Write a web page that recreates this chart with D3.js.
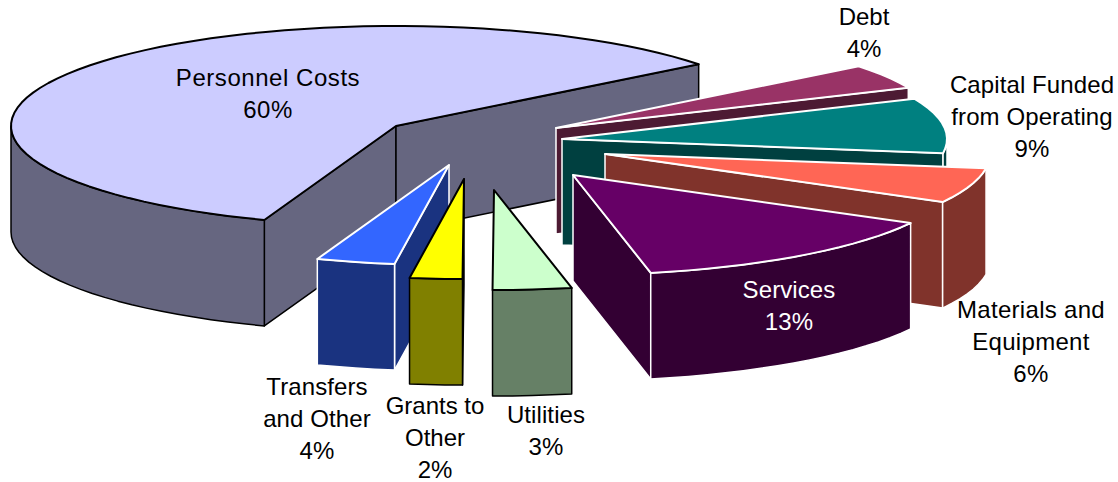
<!DOCTYPE html>
<html>
<head>
<meta charset="utf-8">
<script src="https://cdn.jsdelivr.net/npm/d3@7"></script>
<style>
    html, body { margin: 0; padding: 0; background: #fff; }
    svg { display: block; }
</style>
</head>
<body>
<svg id="chart" width="1118" height="482"></svg>
<script>
// data, clockwise from the lower edge of the big slice
const categories = ["Personnel Costs", "Debt", "Capital Funded from Operating", "Materials and Equipment",
    "Services", "Utilities", "Grants to Other", "Transfers and Other"];
// slice sizes as measured on the picture
const shares = [58.9, 4, 8.9, 5.7, 13.8, 3.3, 2.2, 3.3];
// percentages as printed on the picture
const percentLabels = ["60%", "4%", "9%", "6%", "13%", "3%", "2%", "4%"];

// label line breaks
const labelLines = [["Personnel Costs"], ["Debt"], ["Capital Funded", "from Operating"], ["Materials and", "Equipment"],
    ["Services"], ["Utilities"], ["Grants to", "Other"], ["Transfers", "and Other"]];

// styles and layout, kept apart from the data
const topColors = ["#CCCCFF", "#993366", "#008080", "#FF6655", "#660066", "#CCFFCC", "#FFFF00", "#3366FF"];
const edgeColors = ["#000", "#fff", "#fff", "#fff", "#fff", "#000", "#000", "#fff"];
const labelColors = ["#000", "#000", "#000", "#000", "#fff", "#000", "#000", "#000"];
const shiftX = [0, 160, 166, 209, 177, 98, 68, 53];
const shiftY = [0, 2, 13, 28, 49, 64, 53, 39];
const labelX = [268, 864, 1032, 1031, 789, 546, 435, 317];
const labelY = [78, 17, 85, 310, 290, 415, 406, 387];
const labelSpacing = [0.55, 0, 0.1, 0.3, 0.1, 0.1, 0, 0.1];
const drawOrder = [0, 1, 2, 3, 4, 7, 6, 5];

const cx = 396, cy = 126, rx = 385, ry = 100, depth = 106;
const lineGap = 32;

const svg = d3.select("#chart");

// unit circle -> tilted ellipse
const xScale = d3.scaleLinear().domain([-1, 1]).range([cx - rx, cx + rx]);
const yScale = d3.scaleLinear().domain([-1, 1]).range([cy - ry, cy + ry]);

const pie = d3.pie().sort(null)
    .startAngle(200 * Math.PI / 180)
    .endAngle((200 + 360) * Math.PI / 180);
const arcs = pie(shares);

const line = d3.line().x(d => d[0]).y(d => d[1]);

// point on the rim, t in degrees clockwise from 3 o'clock
function rimPoint(t, i, drop = 0) {
    const r = t * Math.PI / 180;
    return [xScale(Math.cos(r)) + shiftX[i], yScale(Math.sin(r)) + shiftY[i] + drop];
}

function apexPoint(i, drop = 0) {
    return [xScale(0) + shiftX[i], yScale(0) + shiftY[i] + drop];
}

// rim samples between two angles
function rimRange(t0, t1, i, drop = 0) {
    const steps = Math.max(2, Math.ceil((t1 - t0) / 3));
    return d3.range(steps + 1).map(k => rimPoint(t0 + (t1 - t0) * k / steps, i, drop));
}

function darkHalf(color) {
    const c = d3.rgb(color);
    return d3.rgb(c.r / 2, c.g / 2, c.b / 2).formatHex();
}

function addFace(g, points, fill, stroke, width) {
    g.append("path")
        .attr("d", line(points) + "Z")
        .attr("fill", fill)
        .attr("stroke", stroke)
        .attr("stroke-width", width)
        .attr("stroke-linejoin", "round");
}

drawOrder.forEach(i => {
    const g = svg.append("g").attr("class", "slice");
    const t0 = arcs[i].startAngle * 180 / Math.PI - 90;
    const t1 = arcs[i].endAngle * 180 / Math.PI - 90;
    const side = darkHalf(topColors[i]);
    const edge = edgeColors[i];

    // cut faces, only the ones turned towards the viewer
    [t0, t1].forEach((t, k) => {
        const c = Math.cos(t * Math.PI / 180);
        if ((k === 0 && c < 0) || (k === 1 && c > 0)) {
            addFace(g, [apexPoint(i), rimPoint(t, i), rimPoint(t, i, depth), apexPoint(i, depth)], side, edge, 1.5);
        }
    });

    // outer wall, front half of the rim only
    [0, 360].forEach(from => {
        const lo = Math.max(t0, from);
        const hi = Math.min(t1, from + 180);
        if (lo < hi) {
            const upper = rimRange(lo, hi, i);
            const lower = rimRange(lo, hi, i, depth).reverse();
            addFace(g, upper.concat(lower), side, edge, 1.5);
        }
    });

    // top face
    addFace(g, [apexPoint(i)].concat(rimRange(t0, t1, i)), topColors[i], edge, 2);
});

// labels
categories.forEach((name, i) => {
    const lines = labelLines[i].concat(percentLabels[i]);
    const text = svg.append("text")
        .attr("text-anchor", "middle")
        .attr("font-family", "'Liberation Sans', Arial, sans-serif")
        .attr("font-size", 24)
        .attr("letter-spacing", labelSpacing[i])
        .attr("fill", labelColors[i]);
    lines.forEach((s, k) => {
        text.append("tspan")
            .attr("x", labelX[i])
            .attr("y", labelY[i] + k * lineGap + 8)
            .text(s);
    });
});
</script>
</body>
</html>
